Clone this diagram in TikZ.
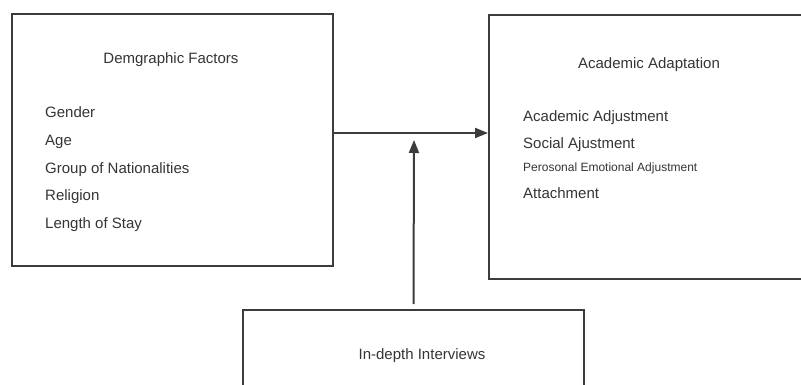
\documentclass[tikz,border=0pt]{standalone}
\usepackage{fontspec}
\setmainfont{Liberation Sans}
\usetikzlibrary{arrows.meta}
\definecolor{ink}{HTML}{3C3C3C}
\definecolor{txt}{HTML}{353535}
\tikzset{
  box/.style={draw=ink, line width=2pt, inner sep=0pt},
  lbl/.style={text=txt, inner sep=0pt, font=\fontsize{15}{18}\selectfont},
  lblsmall/.style={text=txt, inner sep=0pt, font=\fontsize{12}{14}\selectfont},
  conn/.style={draw=ink, line width=2pt, -{Triangle[length=13pt,width=10pt]}},
}
\begin{document}
\begin{tikzpicture}[x=1pt,y=-1pt]
  \fill[white] (0,0) rectangle (801,385);
  \useasboundingbox (0,0) rectangle (801,385);

  % boxes
  \node[box, minimum width=321pt, minimum height=252pt] (demo) at (172.5,140) {};
  \node[box, minimum width=323pt, minimum height=264pt] (adapt) at (650.5,147) {};
  \node[box, minimum width=341pt, minimum height=90pt] (inter) at (413.5,355) {};

  % left box texts
  \node[lbl, anchor=base] (demotitle) at (171,63.3) {Demgraphic Factors};
  \node[lbl, anchor=base west] (gender) at (45,118) {Gender};
  \node[lbl, anchor=base west] (age) at (45,145.6) {Age};
  \node[lbl, anchor=base west] (nation) at (45,173.2) {Group of Nationalities};
  \node[lbl, anchor=base west] (religion) at (45,200.8) {Religion};
  \node[lbl, anchor=base west] (stay) at (45,228.4) {Length of Stay};

  % right box texts
  \node[lbl, anchor=base] (adapttitle) at (649,68.3) {Academic Adaptation};
  \node[lbl, anchor=base west] (acad) at (523,121.7) {Academic Adjustment};
  \node[lbl, anchor=base west] (social) at (523,149) {Social Ajustment};
  \node[lblsmall, anchor=base west] (personal) at (523,171.7) {Perosonal Emotional Adjustment};
  \node[lbl, anchor=base west] (attach) at (523,198.3) {Attachment};

  % bottom box text
  \node[lbl, anchor=base] (intertitle) at (422,359) {In-depth Interviews};

  % connectors
  \coordinate (hline) at (0,133);
  \coordinate (join) at (414,140);
  \draw[conn] (demo.east |- hline) -- (adapt.west |- hline);
  \draw[conn] ([yshift=5pt]inter.north) -- (join);
\end{tikzpicture}
\end{document}
